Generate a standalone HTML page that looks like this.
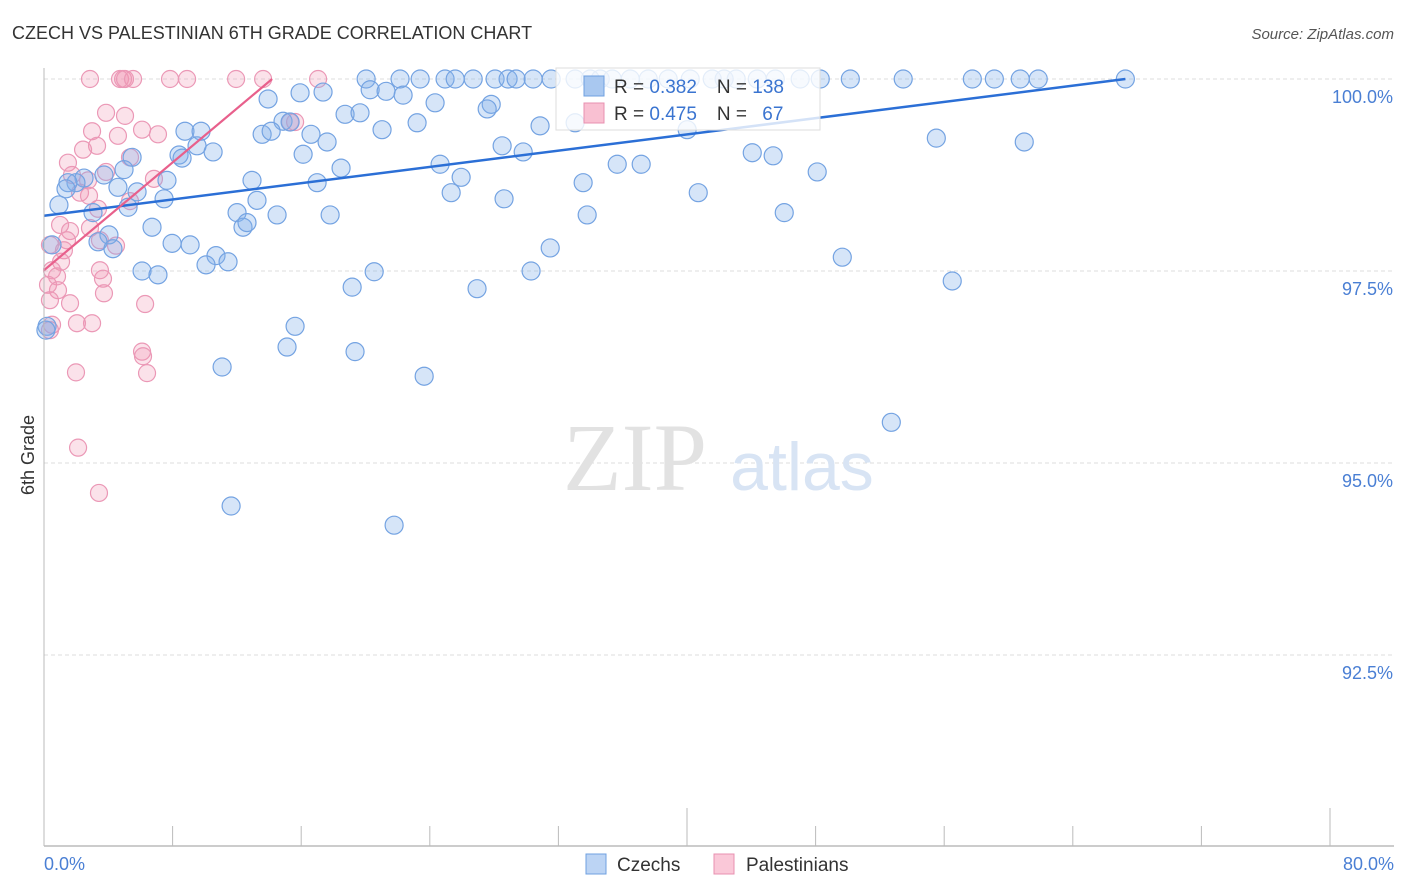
<!DOCTYPE html>
<html><head><meta charset="utf-8"><style>
body{margin:0;background:#fff;font-family:"Liberation Sans",sans-serif}
svg{display:block}
</style></head><body>
<svg id="chart" width="1406" height="892" xmlns="http://www.w3.org/2000/svg">
<text x="12" y="39" font-size="18" fill="#333" font-family="Liberation Sans">CZECH VS PALESTINIAN 6TH GRADE CORRELATION CHART</text>
<text x="1394" y="39" font-size="15" fill="#555" text-anchor="end" font-style="italic">Source: ZipAtlas.com</text>
<g id="grid"></g>
<g>
<text x="635" y="490" font-size="96" fill="#e2e2e2" text-anchor="middle" font-family="Liberation Serif">ZIP</text>
<text x="802" y="490" font-size="68" fill="#d8e4f4" text-anchor="middle">atlas</text>
</g>
<g id="points"></g>
<g id="trends"></g>
<g id="axes"></g>
<text transform="translate(34,455) rotate(-90)" font-size="18" fill="#333" text-anchor="middle">6th Grade</text>
<g>
<rect x="556" y="68" width="264" height="62" fill="#fff" fill-opacity="0.8" stroke="#ddd"/>
<rect x="584" y="76" width="20" height="20" fill="#a9c8f0" stroke="#6fa0e0"/>
<rect x="584" y="103" width="20" height="20" fill="#f9c0d2" stroke="#e890b0"/>
<text x="614" y="93" font-size="19" fill="#333">R = <tspan fill="#3a74d0">0.382</tspan><tspan dx="20">N = </tspan><tspan fill="#3a74d0">138</tspan></text>
<text x="614" y="120" font-size="19" fill="#333">R = <tspan fill="#3a74d0">0.475</tspan><tspan dx="20">N = </tspan><tspan dx="10" fill="#3a74d0">67</tspan></text>
</g>
<g>
<rect x="586" y="854" width="20" height="20" fill="#bcd4f4" stroke="#6fa0e0"/>
<text x="617" y="871" font-size="19" fill="#333">Czechs</text>
<rect x="714" y="854" width="20" height="20" fill="#fac8d8" stroke="#e890b0"/>
<text x="746" y="871" font-size="19" fill="#333">Palestinians</text>
</g>
</svg>
<script>
const yTicks=[100,97.5,95,92.5];
const yTickLabels=["100.0%","97.5%","95.0%","92.5%"];
const xTickLabels=["0.0%","80.0%"];
const czechX=[20.04,23.40,24.95,25.58,26.70,28.06,28.87,29.37,30.43,31.55,33.04,34.60,35.35,37.59,38.83,40.20,41.57,42.31,43.06,44.37,45.49,47.04,48.29,50.16,53.45,57.75,59.12,60.73,61.85,67.27,22.15,33.98,36.47,
13.94,15.93,17.36,20.29,21.28,22.34,24.33,27.82,27.57,18.73,19.66,14.87,15.31,8.77,9.77,13.57,14.13,16.61,17.61,21.03,23.21,30.86,33.04,40.01,55.51,60.98,9.52,10.52,8.40,8.59,5.48,16.12,28.50,29.81,24.64,35.66,37.15,44.06,45.36,48.10,18.48,4.98,3.73,2.49,1.99,1.49,1.37,0.93,7.65,12.94,16.99,25.95,33.54,4.60,5.79,7.47,13.25,25.33,28.62,40.70,3.05,5.23,12.01,14.50,17.80,33.79,46.05,6.72,12.38,12.63,4.04,3.36,4.29,7.97,9.09,0.50,31.49,10.70,11.45,10.08,6.10,7.09,20.54,30.30,49.66,19.17,26.94,56.50,15.62,15.12,19.35,11.08,23.65,52.71,11.64,21.78,0.19,0.12];
const czechY=[100,100,100,100,100,100,100,100,100,100,100,100,100,100,100,100,100,100,100,100,100,100,100,100,100,100,100,100,100,100,100,100,100,
99.74,99.82,99.83,99.86,99.84,99.79,99.69,99.67,99.61,99.54,99.56,99.45,99.44,99.32,99.32,99.28,99.32,99.28,99.18,99.34,99.43,99.39,99.43,99.34,99.23,99.18,99.13,99.05,99.01,98.97,98.98,99.02,99.13,99.05,98.89,98.89,98.89,99.04,99.00,98.79,98.84,98.82,98.75,98.71,98.65,98.65,98.57,98.36,98.68,98.68,98.65,98.72,98.65,98.59,98.53,98.44,98.42,98.52,98.44,98.52,98.26,98.33,98.26,98.23,98.23,98.23,98.26,98.07,98.07,98.13,97.97,97.88,97.79,97.86,97.84,97.84,97.80,97.70,97.62,97.58,97.50,97.45,97.49,97.50,97.68,97.29,97.27,97.37,96.78,96.51,96.45,96.25,96.13,95.53,94.44,94.19,96.78,96.73];
const palX=[2.86,4.73,4.92,5.04,5.54,7.84,8.90,11.95,13.63,17.05,3.86,5.04,2.99,4.60,6.10,7.09,3.30,2.43,1.49,5.35,3.86,1.74,2.74,6.84,2.24,2.80,5.35,3.36,1.00,1.62,2.86,3.48,4.48,0.37,1.43,1.24,1.06,0.50,0.81,3.48,3.67,0.25,0.87,3.73,1.62,6.29,0.37,2.99,2.05,0.50,6.10,6.16,1.99,6.41,2.12,3.42,15.31,15.62,0.37];
const palY=[100,100,100,100,100,100,100,100,100,100,99.56,99.52,99.32,99.26,99.34,99.28,99.13,99.08,98.91,98.98,98.79,98.75,98.68,98.70,98.52,98.48,98.41,98.31,98.10,98.02,98.06,97.90,97.83,97.84,97.90,97.77,97.62,97.51,97.43,97.51,97.40,97.32,97.25,97.21,97.08,97.07,97.12,96.82,96.82,96.80,96.45,96.39,96.18,96.17,95.20,94.61,99.44,99.44,96.73];
const czechTrend=[[0,98.22],[67.27,100]];
const palTrend=[[0,97.51],[14.19,100]];
const NS="http://www.w3.org/2000/svg";
const sx=v=>44+v*16.075;
const sy=v=>79+(100-v)*76.8;
function mk(tag,attrs,parent){const e=document.createElementNS(NS,tag);for(const k in attrs)e.setAttribute(k,attrs[k]);parent.appendChild(e);return e;}
const grid=document.getElementById('grid'),pts=document.getElementById('points'),tr=document.getElementById('trends'),ax=document.getElementById('axes');
yTicks.forEach((t,i)=>{
 const l=mk('line',{x1:44,x2:1394,y1:sy(t),y2:sy(t),stroke:'#ddd','stroke-dasharray':'4,3'},grid);
 
 
 const tx=mk('text',{x:1393,y:sy(t)+24,'font-size':18,fill:'#4a7fd4','text-anchor':'end'},grid);
 tx.textContent=yTickLabels[i];
 
 
});
mk('line',{x1:44,x2:44,y1:68,y2:846,stroke:'#bbb'},ax);
mk('line',{x1:44,x2:1394,y1:846,y2:846,stroke:'#bbb','stroke-width':1.5},ax);
for(let i=0;i<=10;i++){const v=i*8;const big=(i==5||i==10);
 const tk=mk('line',{x1:sx(v),x2:sx(v),y1:big?808:826,y2:846,stroke:'#bbb'},ax);
 
 }
const xl0=mk('text',{x:44,y:870,'font-size':18,fill:'#4a7fd4'},ax);xl0.textContent=xTickLabels[0];


const xl1=mk('text',{x:1394,y:870,'font-size':18,fill:'#4a7fd4','text-anchor':'end'},ax);xl1.textContent=xTickLabels[1];


palX.forEach((x,i)=>{const c=mk('circle',{cx:sx(x),cy:sy(palY[i]),r:8.5,fill:'rgba(242,150,180,0.28)',stroke:'#eb98b6','stroke-width':1.2},pts);
 
 });
czechX.forEach((x,i)=>{const c=mk('circle',{cx:sx(x),cy:sy(czechY[i]),r:9,fill:'rgba(130,175,235,0.33)',stroke:'#74a3e2','stroke-width':1.2},pts);
 
 });
const l1=mk('line',{x1:sx(czechTrend[0][0]),y1:sy(czechTrend[0][1]),x2:sx(czechTrend[1][0]),y2:sy(czechTrend[1][1]),stroke:'#2b6fd6','stroke-width':2.5},tr);


const l2=mk('line',{x1:sx(palTrend[0][0]),y1:sy(palTrend[0][1]),x2:sx(palTrend[1][0]),y2:sy(palTrend[1][1]),stroke:'#e8608c','stroke-width':2.2},tr);


</script>
</body></html>
